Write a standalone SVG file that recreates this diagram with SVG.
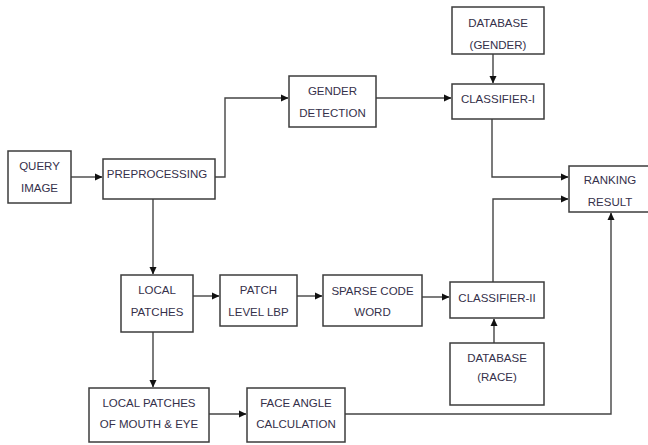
<svg xmlns="http://www.w3.org/2000/svg" width="648" height="445" viewBox="0 0 648 445">
<style>
.box{fill:#fff;stroke:#3c3c3c;stroke-width:1.5}
.t{font-family:"Liberation Sans",Arial,sans-serif;font-size:11.5px;fill:#35304a;text-anchor:middle}
.c{fill:none;stroke:#444;stroke-width:1.4}
</style>
<defs>
<marker id="ah" markerWidth="8" markerHeight="8" refX="7" refY="4" orient="auto" markerUnits="userSpaceOnUse">
<path d="M0,0.5 L7.5,4 L0,7.5 z" fill="#111"/>
</marker>
</defs>
<rect width="648" height="445" fill="#fff"/>
<g id="connectors">
<path class="c" d="M71,177 H102" marker-end="url(#ah)"/>
<path class="c" d="M215,177 H225 V98 H288" marker-end="url(#ah)"/>
<path class="c" d="M376,98 H451" marker-end="url(#ah)"/>
<path class="c" d="M493,54 V83" marker-end="url(#ah)"/>
<path class="c" d="M492,119 V177 H568" marker-end="url(#ah)"/>
<path class="c" d="M153,199 V274" marker-end="url(#ah)"/>
<path class="c" d="M193,296 H219" marker-end="url(#ah)"/>
<path class="c" d="M297,296 H322" marker-end="url(#ah)"/>
<path class="c" d="M422,297 H449" marker-end="url(#ah)"/>
<path class="c" d="M494,343 V319" marker-end="url(#ah)"/>
<path class="c" d="M493,282 V199 H568" marker-end="url(#ah)"/>
<path class="c" d="M153,332 V387" marker-end="url(#ah)"/>
<path class="c" d="M209,414 H246" marker-end="url(#ah)"/>
<path class="c" d="M345,414 H611 V213" marker-end="url(#ah)"/>
</g>
<g id="query">
<rect class="box" x="8" y="151" width="63" height="52"/>
<text class="t" x="39.5" y="170">QUERY</text>
<text class="t" x="39.5" y="192">IMAGE</text>
</g>
<g id="preprocessing">
<rect class="box" x="103" y="159" width="112" height="40"/>
<text class="t" x="157" y="178">PREPROCESSING</text>
</g>
<g id="gender-detection">
<rect class="box" x="289" y="76" width="87" height="51"/>
<text class="t" x="332.5" y="95">GENDER</text>
<text class="t" x="332.5" y="117">DETECTION</text>
</g>
<g id="db-gender">
<rect class="box" x="452" y="7" width="92" height="47"/>
<text class="t" x="498" y="27">DATABASE</text>
<text class="t" x="498" y="49">(GENDER)</text>
</g>
<g id="classifier-1">
<rect class="box" x="452" y="84" width="92" height="35"/>
<text class="t" x="498" y="103">CLASSIFIER-I</text>
</g>
<g id="ranking">
<rect class="box" x="569" y="166" width="82" height="46"/>
<text class="t" x="610" y="184">RANKING</text>
<text class="t" x="610" y="206">RESULT</text>
</g>
<g id="local-patches">
<rect class="box" x="121" y="275" width="72" height="57"/>
<text class="t" x="157" y="294">LOCAL</text>
<text class="t" x="157" y="316">PATCHES</text>
</g>
<g id="patch-lbp">
<rect class="box" x="220" y="275" width="77" height="51"/>
<text class="t" x="258.5" y="294">PATCH</text>
<text class="t" x="258.5" y="316">LEVEL LBP</text>
</g>
<g id="sparse">
<rect class="box" x="323" y="275" width="99" height="51"/>
<text class="t" x="372.5" y="295">SPARSE CODE</text>
<text class="t" x="372.5" y="316">WORD</text>
</g>
<g id="classifier-2">
<rect class="box" x="450" y="282" width="94" height="36"/>
<text class="t" x="497" y="302">CLASSIFIER-II</text>
</g>
<g id="db-race">
<rect class="box" x="450" y="343" width="94" height="62"/>
<text class="t" x="497" y="362">DATABASE</text>
<text class="t" x="497" y="381">(RACE)</text>
</g>
<g id="mouth-eye">
<rect class="box" x="89" y="388" width="120" height="54"/>
<text class="t" x="149" y="407">LOCAL PATCHES</text>
<text class="t" x="149" y="428">OF MOUTH &amp; EYE</text>
</g>
<g id="face-angle">
<rect class="box" x="247" y="388" width="98" height="54"/>
<text class="t" x="296" y="407">FACE ANGLE</text>
<text class="t" x="296" y="428">CALCULATION</text>
</g>
</svg>
